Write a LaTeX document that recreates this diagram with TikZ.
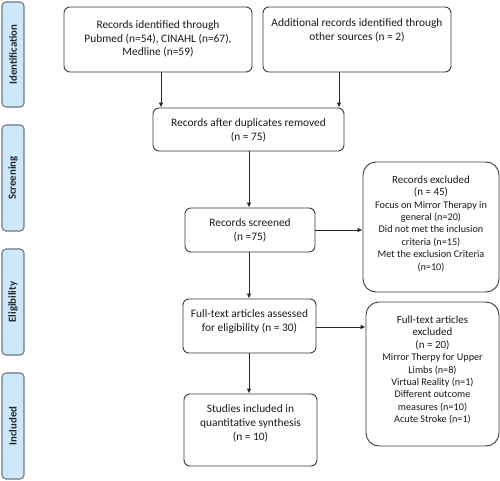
\documentclass[tikz,border=0pt]{standalone}
\usepackage{fontspec}
\setmainfont{Carlito}
\usetikzlibrary{arrows.meta,calc}
\definecolor{sidefill}{HTML}{CDE8FB}
\definecolor{sidedraw}{HTML}{6E7780}
\definecolor{boxdraw}{HTML}{3A3A3A}
\tikzset{
  sidebox/.style={draw=sidedraw, line width=1.1pt, fill=sidefill, rounded corners=4pt, inner sep=0pt},
  sidetxt/.style={rotate=90, font=\fontsize{10.8}{12}\selectfont\bfseries, text=black!85},
  flowbox/.style={draw=boxdraw, line width=0.9pt, rounded corners=6pt, inner sep=0pt},
  bigbox/.style={draw=boxdraw, line width=0.9pt, rounded corners=13pt, inner sep=0pt},
  maintxt/.style={align=center, font=\fontsize{11.4}{13.8}\selectfont, text=black!90, inner sep=0pt},
  smalltxt/.style={align=center, font=\fontsize{10.2}{12.4}\selectfont, text=black!90, inner sep=0pt},
  conn/.style={draw=black!85, line width=0.8pt, -{Latex[length=5pt,width=4.5pt]}}
}
\begin{document}
\begin{tikzpicture}[x=1pt,y=-1pt]
\useasboundingbox (0,0) rectangle (500,481);
% side labels
\node[sidebox, minimum width=22pt, minimum height=105pt] (s1) at (13,54.5) {};
\node[sidetxt] (s1t) at (s1.center) {Identification};
\node[sidebox, minimum width=22pt, minimum height=106pt] (s2) at (13,178) {};
\node[sidetxt] (s2t) at (s2.center) {Screening};
\node[sidebox, minimum width=22pt, minimum height=106pt] (s3) at (13,302) {};
\node[sidetxt] (s3t) at (s3.center) {Eligibility};
\node[sidebox, minimum width=22pt, minimum height=106pt] (s4) at (13,426) {};
\node[sidetxt] (s4t) at (s4.center) {Included};
% boxes
\node[flowbox, minimum width=188pt, minimum height=65pt] (b1) at (158,39.5) {};
\node[maintxt] (t1) at (158,39) {Records identified through\\Pubmed (n=54), CINAHL (n=67),\\Medline (n=59)};
\node[flowbox, minimum width=188pt, minimum height=65pt] (b2) at (357,39.5) {};
\node[maintxt] (t2) at (357,30.5) {Additional records identified through\\other sources (n = 2)};
\node[flowbox, minimum width=191pt, minimum height=43pt] (b3) at (248.5,129.5) {};
\node[maintxt] (t3) at (248.5,130) {Records after duplicates removed\\(n = 75)};
\node[flowbox, minimum width=130pt, minimum height=44pt] (b4) at (250,230) {};
\node[maintxt] (t4) at (250,230) {Records screened\\(n =75)};
\node[bigbox, minimum width=136pt, minimum height=130pt] (b5) at (431,227) {};
\node[smalltxt] (t5) at (431,223.5) {{\fontsize{11}{12.4}\selectfont Records excluded}\\{\fontsize{11}{12.4}\selectfont (n = 45)}\\Focus on Mirror Therapy in\\general (n=20)\\Did not met the inclusion\\criteria (n=15)\\Met the exclusion Criteria\\(n=10)};
\node[flowbox, minimum width=133pt, minimum height=54pt] (b6) at (249.5,326) {};
\node[maintxt] (t6) at (249.5,321.5) {Full-text articles assessed\\for eligibility (n = 30)};
\node[bigbox, minimum width=133pt, minimum height=144pt] (b7) at (432.5,374) {};
\node[smalltxt] (t7) at (432.5,370) {{\fontsize{11}{12.8}\selectfont Full-text articles}\\{\fontsize{11}{12.8}\selectfont excluded}\\{\fontsize{11}{12.8}\selectfont (n = 20)}\\Mirror Therpy for Upper\\Limbs (n=8)\\Virtual Reality (n=1)\\Different outcome\\measures (n=10)\\Acute Stroke (n=1)};
\node[flowbox, minimum width=133pt, minimum height=72pt] (b8) at (250.5,430) {};
\node[maintxt] (t8) at (250.5,423.5) {Studies included in\\quantitative synthesis\\(n = 10)};
% connectors
\coordinate (a1) at (161,0);
\coordinate (a2) at (339,0);
\coordinate (a3) at (249,0);
\draw[conn] (a1 |- b1.south) -- (a1 |- b3.north);
\draw[conn] (a2 |- b2.south) -- (a2 |- b3.north);
\draw[conn] (a3 |- b3.south) -- (a3 |- b4.north);
\draw[conn] (b4.east) -- (b4.east -| b5.west);
\draw[conn] (a3 |- b4.south) -- (a3 |- b6.north);
\draw[conn] ($(b6.east)+(0,1)$) -- ($(b6.east -| b7.west)+(0,1)$);
\draw[conn] (a3 |- b6.south) -- (a3 |- b8.north);
\end{tikzpicture}
\end{document}
